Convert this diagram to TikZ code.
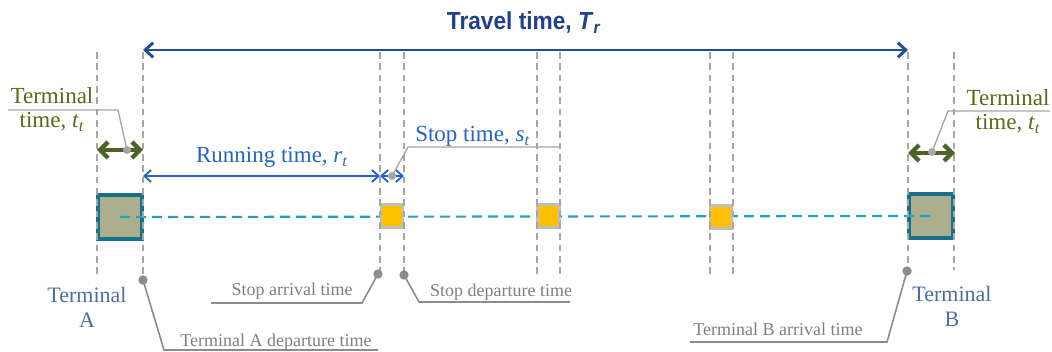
\documentclass[tikz,border=0pt]{standalone}
\usepackage{fontspec}
\usepackage{graphicx}
\setmainfont{Liberation Serif}
\newfontfamily\titlefont{Liberation Sans}
\usetikzlibrary{arrows.meta}
\definecolor{navy}{HTML}{1F3F8F}
\definecolor{navyarrow}{HTML}{1F4E9A}
\definecolor{runblue}{HTML}{2563C6}
\definecolor{olivetext}{HTML}{5A6A1A}
\definecolor{olivearrow}{HTML}{4F6228}
\definecolor{termtext}{HTML}{4A6FA5}
\definecolor{graytext}{HTML}{7F7F7F}
\definecolor{leadgray}{HTML}{8C8C8C}
\definecolor{lightlead}{HTML}{A6A6A6}
\definecolor{vgray}{HTML}{A6A6A6}
\definecolor{termfill}{HTML}{ABAF8E}
\definecolor{termborder}{HTML}{17708A}
\definecolor{stopfill}{HTML}{FFC000}
\definecolor{stopborder}{HTML}{BFBFBF}
\definecolor{teal}{HTML}{1FA2C2}
\begin{document}
\begin{tikzpicture}[x=0.75pt,y=-0.75pt,
  vline/.style={draw=vgray, dash pattern=on 5pt off 3.5pt, line width=0.9pt},
  termbox/.style={draw=termborder, fill=termfill, line width=2.3pt, minimum width=33pt, minimum height=33pt, inner sep=0pt},
  stopbox/.style={draw=stopborder, fill=stopfill, line width=2.2pt, minimum width=16.5pt, minimum height=17.5pt, inner sep=0pt},
  routeline/.style={draw=teal, line width=1.6pt, dash pattern=on 7.5pt off 4.5pt},
  travelarrow/.style={draw=navyarrow, line width=2.2pt, {Straight Barb[length=6pt,width=11pt]}-{Straight Barb[length=6pt,width=11pt]}},
  runarrow/.style={draw=runblue, line width=1.4pt, {Straight Barb[length=5pt,width=9pt]}-{Straight Barb[length=5pt,width=9pt]}},
  termarrow/.style={draw=olivearrow, line width=3.2pt, {Straight Barb[length=6pt,width=12pt]}-{Straight Barb[length=6pt,width=12pt]}},
  toplead/.style={draw=lightlead, line width=1pt},
  botlead/.style={draw=leadgray, line width=1.2pt},
  topdot/.style={circle, fill=lightlead, inner sep=0pt, minimum size=6pt},
  botdot/.style={circle, fill=leadgray, inner sep=0pt, minimum size=7pt},
  bluelab/.style={text=runblue, font=\fontsize{17.25}{18}\selectfont, inner sep=0pt},
  olivelab/.style={text=olivetext, font=\fontsize{17.25}{18}\selectfont, align=center, inner sep=0pt},
  termlab/.style={text=termtext, font=\fontsize{16.5}{18.75}\selectfont, align=center, inner sep=0pt},
  graylab/.style={text=graytext, font=\fontsize{13.5}{15}\selectfont, inner sep=0pt}
]
\useasboundingbox (0,0) rectangle (1052,352);

% boxes
\node[termbox] (termA) at (120,217) {};
\node[termbox] (termB) at (931,216) {};
\draw[routeline] (termA.center) -- (termB.center);
\node[stopbox] (stop1) at (392,216) {};
\node[stopbox] (stop2) at (548.5,216) {};
\node[stopbox] (stop3) at (721,217) {};

% vertical guide lines
\foreach \x/\yb in {97/275,143/280,380/274,404/275,537/274,560/274,710/274,733/274,908/271,954/270}
  \draw[vline] (\x,52) -- (\x,\yb);

% named coordinates
\coordinate (ta1) at (143,50);
\coordinate (tb0) at (908,50);
\coordinate (r0) at (143,176);
\coordinate (r1) at (380,176);
\coordinate (s1) at (404,176);
\coordinate (gl0) at (97,150);
\coordinate (gl1) at (143,150);
\coordinate (gr0) at (908,153);
\coordinate (gr1) at (955,153);

% arrows
\draw[travelarrow] (ta1) -- (tb0);
\draw[runarrow] (r0) -- (r1);
\draw[runarrow] (r1) -- (s1);
\draw[termarrow] (gl0) -- (gl1);
\draw[termarrow] (gr0) -- (gr1);

% title and labels
\node[text=navy, font=\titlefont\bfseries\fontsize{18.5}{20}\selectfont, inner sep=0pt, anchor=base] (title) at (524,30)
  {\scalebox{0.92}[1]{Travel time, \textit{T}\textsubscript{\textit{r}}}};
\node[bluelab, anchor=base] (runlab) at (272,163) {Running time, \textit{r}\textsubscript{\textit{t}}};
\node[bluelab, anchor=base west] (stoplab) at (415,142) {Stop time, \textit{s}\textsubscript{\textit{t}}};
\node[olivelab, anchor=base] (ttl) at (52,128) {Terminal\\time, \textit{t}\textsubscript{\textit{t}}};
\node[olivelab, anchor=base] (ttr) at (1008,130) {Terminal\\time,\ \textit{t}\textsubscript{\textit{t}}};
\node[termlab, anchor=base] (tAlab) at (87,328) {Terminal\\A};
\node[termlab, anchor=base] (tBlab) at (952,327) {Terminal\\B};

% top leaders
\node[topdot] (dl) at (127,150) {};
\coordinate (dlk) at (118,110);
\coordinate (dle) at (8,110);
\draw[toplead] (dl.center) -- (dlk) -- (dle);
\node[topdot] (ds) at (392,176) {};
\coordinate (dsk) at (408,147);
\coordinate (dse) at (559,147);
\draw[toplead] (ds.center) -- (dsk) -- (dse);
\node[topdot] (dr) at (932,152) {};
\coordinate (drk) at (948,111);
\coordinate (dre) at (1050,111);
\draw[toplead] (dr.center) -- (drk) -- (dre);

% bottom leaders and labels
\node[botdot] (da) at (378,274) {};
\coordinate (dak) at (362,303);
\coordinate (dae) at (211,303);
\draw[botlead] (da.center) -- (dak) -- (dae);
\node[graylab, anchor=base] (arrlab) at (292,296) {Stop arrival time};

\node[botdot] (dd) at (404,275) {};
\coordinate (ddk) at (419,302);
\coordinate (dde) at (570,302);
\draw[botlead] (dd.center) -- (ddk) -- (dde);
\node[graylab, anchor=base] (deplab) at (501,297) {Stop departure time};

\node[botdot] (dA) at (143,280) {};
\coordinate (dAk) at (164,350);
\coordinate (dAe) at (378,350);
\draw[botlead] (dA.center) -- (dAk) -- (dAe);
\node[graylab, anchor=base] (tAdep) at (276,346) {Terminal A departure time};

\node[botdot] (dB) at (907,271) {};
\coordinate (dBk) at (887,342);
\coordinate (dBe) at (690,342);
\draw[botlead] (dB.center) -- (dBk) -- (dBe);
\node[graylab, anchor=base] (tBarr) at (778,335) {Terminal B arrival time};
\end{tikzpicture}
\end{document}
